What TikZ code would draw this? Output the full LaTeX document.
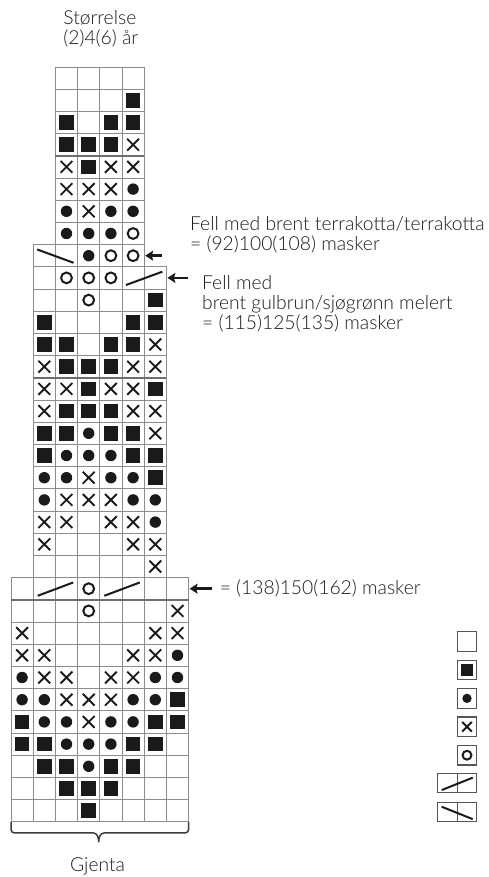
\documentclass[tikz,border=0pt]{standalone}
\usepackage{fontspec}
\setmainfont{Lato Light}
\usepackage{tikz}
\usetikzlibrary{arrows.meta,positioning}

\definecolor{ink}{HTML}{1A1A1A}
\definecolor{gridgray}{HTML}{8C8C8C}
\definecolor{sepgray}{HTML}{6E6E6E}
\definecolor{keygray}{HTML}{555555}
\newcommand{\symsz}{1}

\begin{document}
\begin{tikzpicture}[
  x=22.2pt, y=22.2pt,
  sz/.code={\renewcommand{\symsz}{#1}},
  cell/.style={draw=gridgray, line width=0.9pt, minimum size=22.2pt, inner sep=0pt, outer sep=0pt},
  key/.style={draw=keygray, line width=1.1pt, minimum size=19.5pt, inner sep=0pt, outer sep=0pt, sz=0.82},
  em/.style={},
  sq/.style={path picture={\fill[ink] (path picture bounding box.center) ++(-7.3pt*\symsz,-7.3pt*\symsz) rectangle ++(14.6pt*\symsz,14.6pt*\symsz);}},
  dt/.style={path picture={\fill[ink] (path picture bounding box.center) circle[radius=5.7pt*\symsz];}},
  cr/.style={path picture={\draw[ink, line width=1.9pt] (path picture bounding box.center) ++(-5.9pt*\symsz,-5.9pt*\symsz) -- ++(11.8pt*\symsz,11.8pt*\symsz) ++(0,-11.8pt*\symsz) -- ++(-11.8pt*\symsz,11.8pt*\symsz);}},
  ci/.style={path picture={\draw[ink, line width=2pt] (path picture bounding box.center) circle[radius=5.4pt*\symsz];}},
  dec/.style={ink, line width=2pt},
  sep/.style={draw=sepgray, line width=2.4pt},
  ptr/.style={-{Stealth[length=8pt,width=10pt,inset=1.5pt]}, line width=2.6pt, ink, shorten >=1pt},
  brace/.style={draw=ink!85, line width=1.5pt},
  note/.style={font=\fontsize{19.3pt}{20pt}\selectfont, align=left, inner sep=0pt, text=ink}
]
\useasboundingbox (-0.4955,3.018) rectangle (21.4865,-36.4865);

% Chart rows: row/first column/cells
\foreach \r/\c/\cells in {
  1/2/{em,em,em,em}, 2/2/{em,em,em,sq}, 3/2/{sq,em,sq,sq}, 4/2/{sq,sq,sq,cr},
  5/2/{cr,sq,cr,cr}, 6/2/{cr,cr,cr,dt}, 7/2/{dt,cr,dt,dt}, 8/2/{dt,dt,dt,ci},
  9/1/{em,em,dt,ci,ci}, 10/1/{em,ci,ci,ci,em,em},
  11/1/{em,em,ci,em,em,sq}, 12/1/{sq,em,em,em,sq,sq}, 13/1/{sq,sq,em,sq,sq,cr},
  14/1/{cr,sq,sq,sq,cr,cr}, 15/1/{cr,cr,sq,cr,cr,sq}, 16/1/{cr,sq,sq,sq,cr,cr},
  17/1/{sq,sq,dt,sq,sq,cr}, 18/1/{sq,dt,dt,dt,sq,sq}, 19/1/{dt,dt,cr,dt,dt,sq},
  20/1/{dt,cr,cr,cr,dt,dt}, 21/1/{cr,cr,em,cr,cr,dt}, 22/1/{cr,em,em,em,cr,cr},
  23/1/{em,em,em,em,em,cr},
  24/0/{em,em,em,ci,em,em,em,em}, 25/0/{em,em,em,ci,em,em,em,cr},
  26/0/{cr,em,em,em,em,em,cr,cr}, 27/0/{cr,cr,em,em,em,cr,cr,dt},
  28/0/{dt,cr,cr,em,cr,cr,dt,dt}, 29/0/{dt,dt,cr,cr,cr,dt,dt,sq},
  30/0/{sq,dt,dt,cr,dt,dt,sq,sq}, 31/0/{sq,sq,dt,dt,dt,sq,sq,em},
  32/0/{em,sq,sq,dt,sq,sq,em,em}, 33/0/{em,em,sq,sq,sq,em,em,em},
  34/0/{em,em,em,sq,em,em,em,em}}
{
  \foreach \s [count=\k from \c] in \cells
    \node[cell, \s] (c\r-\k) at (\k+.5,.5-\r) {};
}

% Decreases over two stitches
\draw[dec] ([shift={(.18,-.22)}]c9-1.north west) -- ([shift={(-.18,.18)}]c9-2.south east);
\draw[dec] ([shift={(.18,.18)}]c10-5.south west) -- ([shift={(-.18,-.22)}]c10-6.north east);
\draw[dec] ([shift={(.2,.18)}]c24-1.south west) -- ([shift={(-.2,-.22)}]c24-2.north east);
\draw[dec] ([shift={(.2,.18)}]c24-4.south west) -- ([shift={(-.2,-.22)}]c24-5.north east);

% Colour change lines
\draw[sep] (c4-2.south west) -- (c4-5.south east);
\draw[sep] (c14-1.south west) -- (c14-6.south east);
\draw[sep] (c24-0.south west) -- (c24-7.south east);

% Title
\node[note, anchor=west] (size) at (2.35,1.71) {Størrelse\\(2)4(6) år};

% Decrease notes
\coordinate (a9) at ([xshift=18pt]c9-5.east);
\draw[ptr] (a9) -- (c9-5.east);
\node[note, anchor=west] (fell1) at (8.06,-7.545) {Fell med brent terrakotta/terrakotta\\= (92)100(108) masker};

\coordinate (a10) at ([xshift=22pt]c10-6.east);
\draw[ptr] (a10) -- (c10-6.east);
\node[note, anchor=west] (fell2) at (8.6,-10.65) {Fell med\\brent gulbrun/sjøgrønn melert\\= (115)125(135) masker};

\coordinate (a24) at ([xshift=23pt]c24-7.east);
\draw[ptr] (a24) -- (c24-7.east);
\node[note, right=8pt of a24] (m24) {= (138)150(162) masker};

% Repeat brace
\draw[brace] (c34-0.south west) -- ++(0,-.35) to[out=-90,in=180] ++(.15,-.15) -- (3.7,-34.5)
  to[out=0,in=90] (3.95,-34.92) to[out=90,in=180] (4.2,-34.5) -- (7.85,-34.5)
  to[out=0,in=-90] (8,-34.35) -- (c34-7.south east);
\node[note, anchor=base] (rep) at (3.9,-36.26) {Gjenta};

% Key
\foreach \s [count=\i] in {em,sq,dt,cr,ci}
  \node[key, \s] (k\i) at (20.54,-24.6-1.28*\i) {};
\node[key] (k6a) at (19.66,-32.25) {};
\node[key, right=0pt of k6a] (k6b) {};
\draw[dec] ([shift={(.18,.12)}]k6a.south west) -- ([shift={(-.18,-.2)}]k6b.north east);
\node[key] (k7a) at (19.66,-33.56) {};
\node[key, right=0pt of k7a] (k7b) {};
\draw[dec] ([shift={(.18,-.2)}]k7a.north west) -- ([shift={(-.18,.12)}]k7b.south east);
\end{tikzpicture}
\end{document}
